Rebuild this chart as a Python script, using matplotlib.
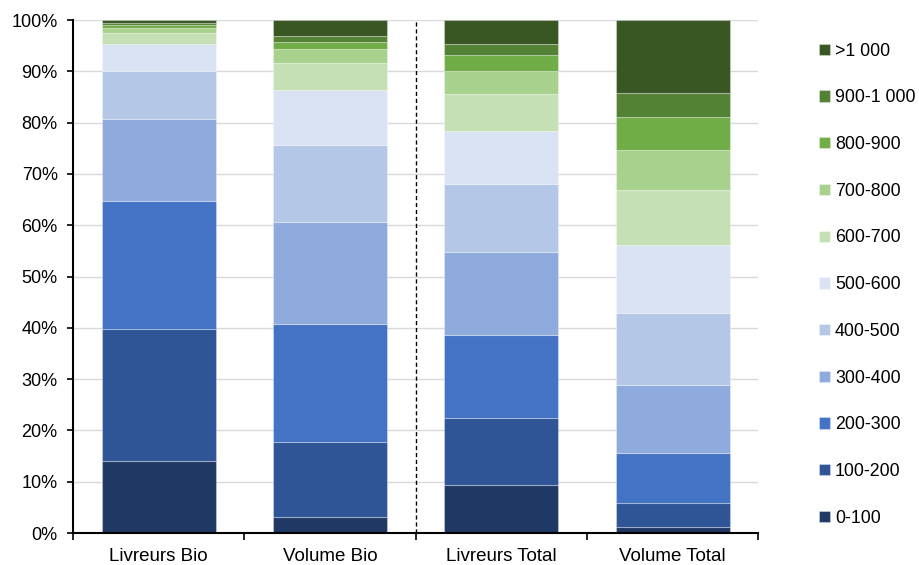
import matplotlib.pyplot as plt
import numpy as np

plt.rcParams["font.family"] = ["Liberation Sans", "DejaVu Sans"]

categories = ["Livreurs Bio", "Volume Bio", "Livreurs Total", "Volume Total"]
classes = ["0-100", "100-200", "200-300", "300-400", "400-500", "500-600",
           "600-700", "700-800", "800-900", "900-1 000", ">1 000"]
colors = ["#203864", "#2f5597", "#4472c4", "#8faadc", "#b4c7e7", "#dae3f3",
          "#c5e0b4", "#a9d18e", "#70ad47", "#548235", "#385723"]

# shares (%) per class, one list per category
livreurs_bio = [14.0, 25.8, 24.9, 16.0, 9.4, 5.2, 2.2, 0.9, 0.6, 0.4, 0.6]
volume_bio = [3.1, 14.6, 23.0, 19.9, 15.0, 10.8, 5.2, 2.7, 1.4, 1.2, 3.1]
livreurs_total = [9.4, 13.0, 16.2, 16.2, 13.2, 10.4, 7.2, 4.5, 3.1, 2.1, 4.7]
volume_total = [1.2, 4.6, 9.8, 13.2, 14.1, 13.2, 10.8, 7.8, 6.3, 4.8, 14.2]

data = np.array([livreurs_bio, volume_bio, livreurs_total, volume_total]).T
data = data / data.sum(axis=0) * 100

fig = plt.figure(figsize=(9.2, 5.65), dpi=100)
ax = fig.add_axes([0.0793, 0.0566, 0.745, 0.908])

x = np.arange(len(categories))
bottom = np.zeros(len(categories))
for i, row in enumerate(data):
    ax.bar(x, row, bottom=bottom, width=0.665, color=colors[i], label=classes[i],
           edgecolor=(1, 1, 1, 0.3), linewidth=0.8, zorder=2)
    bottom += row

ax.axvline(1.5, color="black", linestyle=(0, (3, 2)), linewidth=1, zorder=3)

ax.set_xlim(-0.5, 3.5)
ax.set_ylim(0, 100)
ax.set_yticks(np.arange(0, 101, 10))
ax.set_yticklabels([f"{v}%" for v in range(0, 101, 10)], fontsize=13)
ax.yaxis.grid(True, color="#d9d9d9", linewidth=1, zorder=0)

ax.set_xticks(x)
ax.set_xticklabels(categories, fontsize=13.5)
ax.tick_params(axis="x", length=0, pad=11)
ax.set_xticks(np.arange(-0.5, 3.6, 1), minor=True)
ax.tick_params(axis="x", which="minor", length=5, width=1.2)
ax.tick_params(axis="y", length=4, width=1.2, pad=7)

for side in ["top", "right"]:
    ax.spines[side].set_visible(False)
for side in ["left", "bottom"]:
    ax.spines[side].set_linewidth(1.5)

handles, labels = ax.get_legend_handles_labels()
ax.legend(handles[::-1], labels[::-1], loc="upper left",
          bbox_to_anchor=(0.8825, 0.937), bbox_transform=fig.transFigure,
          frameon=False, fontsize=12.8, handlelength=0.6, handleheight=0.6,
          handletextpad=0.3, labelspacing=1.67, borderaxespad=0)

fig.savefig("out.png", dpi=100)
